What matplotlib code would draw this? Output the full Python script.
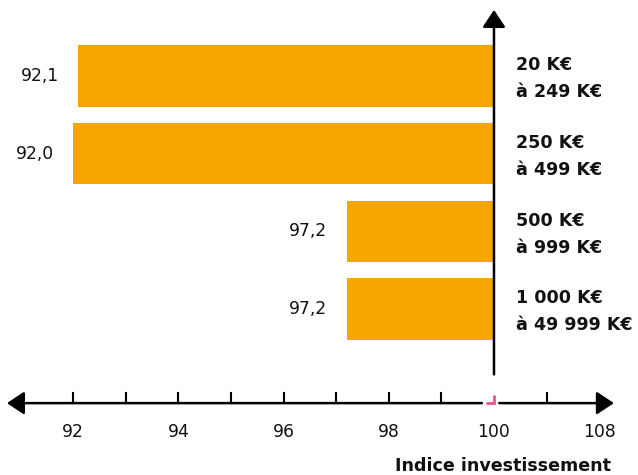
import matplotlib.pyplot as plt

# investment size classes, top to bottom
categories = ["20 K€\nà 249 K€", "250 K€\nà 499 K€", "500 K€\nà 999 K€", "1 000 K€\nà 49 999 K€"]
values = [92.1, 92.0, 97.2, 97.2]
value_labels = ["92,1", "92,0", "97,2", "97,2"]
tick_values = [92, 93, 94, 95, 96, 97, 98, 99, 104]
label_values = [92, 94, 96, 98, 100, 108]
axis_title = "Indice investissement"

BAR_COLOR = "#F5A600"
BREAK_COLOR = "#E8558C"


def axis_pos(v):
    # broken axis: everything past 100 is squeezed (108 sits where 102 would be)
    return v if v <= 100 else 100 + (v - 100) / 4


fig = plt.figure(figsize=(6.38, 4.75), dpi=100)
ax = fig.add_axes([0, 0, 1, 1])
ax.set_xlim(90.608, 102.738)
ax.set_ylim(5.135, -0.978)
ax.axis("off")

ypos = list(range(len(categories)))
ax.barh(ypos, [100 - v for v in values], left=values, height=0.79, color=BAR_COLOR)

for i, (v, lab) in enumerate(zip(values, value_labels)):
    ax.annotate(lab, xy=(v, i), xytext=(-14, 0), textcoords="offset points",
                ha="right", va="center", fontsize=12.3, color="#111111")

for i, cat in enumerate(categories):
    ax.annotate(cat, xy=(100, i), xytext=(16, -2), textcoords="offset points",
                ha="left", va="center", fontsize=12.6, fontweight="bold",
                linespacing=1.65, color="#111111")

# vertical axis with arrow
arrow = dict(arrowstyle="-|>,head_length=0.75,head_width=0.5", lw=1.8,
             color="black", mutation_scale=14, shrinkA=0, shrinkB=0)
ax.annotate("", xy=(100, -0.85), xytext=(100, 3.84), arrowprops=arrow)

# horizontal axis (two arrows with a gap at the break)
y_ax = 4.21
ax.annotate("", xy=(90.74, y_ax), xytext=(99.77, y_ax), arrowprops=arrow)
ax.annotate("", xy=(102.28, y_ax), xytext=(100.10, y_ax), arrowprops=arrow)
ax.plot([99.85, 100.0, 100.0], [y_ax, y_ax, y_ax - 0.1], color=BREAK_COLOR,
        lw=2, solid_joinstyle="miter", solid_capstyle="butt")

for t in tick_values:
    ax.plot([axis_pos(t)] * 2, [y_ax, y_ax - 0.13], color="black", lw=1.5)

for t in label_values:
    ax.text(axis_pos(t), 4.58, str(t), ha="center", va="center", fontsize=12.3,
            color="#111111")

ax.text(102.22, 5.02, axis_title, ha="right", va="center", fontsize=12.6,
        fontweight="bold", color="#111111")

fig.savefig("out.png", dpi=100)
